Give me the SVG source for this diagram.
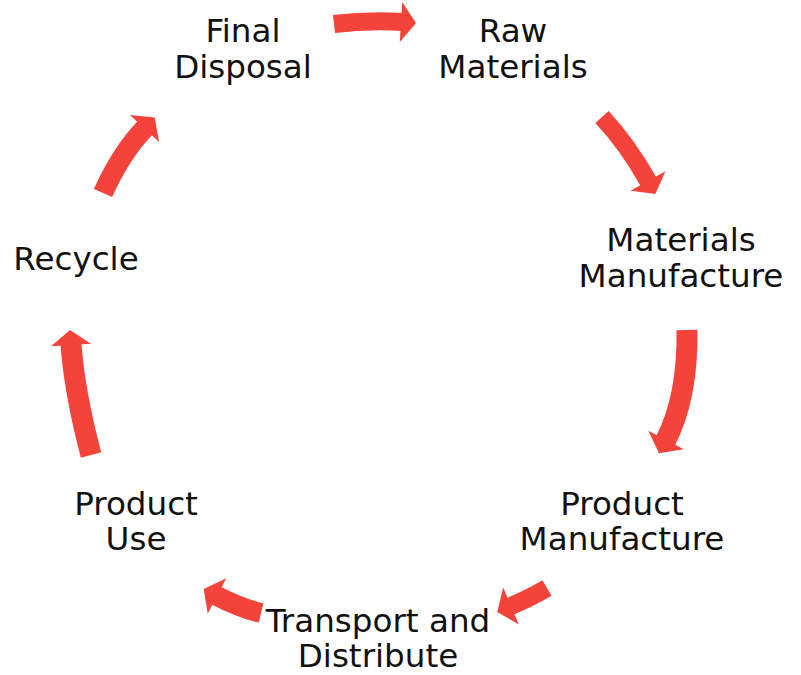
<svg xmlns="http://www.w3.org/2000/svg" width="801" height="675" viewBox="0 0 801 675">
<style>
.bg{fill:#ffffff}
.lbl{font-family:"DejaVu Sans","Open Sans",sans-serif;font-size:32.6px;fill:#111111;text-anchor:middle}
.body{fill:none;stroke:#f4433a;stroke-linecap:butt}
.head{fill:#f4433a}
</style>
<rect class="bg" x="0" y="0" width="801" height="675"/>
<g id="connectors">
  <g id="a1"><path class="body" stroke-width="18" d="M334,24 Q367,20 403,22"/><polygon class="head" points="402.2,2 416,22.9 399.8,42"/></g>
  <g id="a2"><path class="body" stroke-width="18" d="M602,117 Q628,145 649,182.7"/><polygon class="head" points="630.5,190.7 665.5,171.3 655.3,194.1"/></g>
  <g id="a3"><path class="body" stroke-width="21" d="M687,330 Q688,398 665,441.8"/><polygon class="head" points="683.7,449.3 648.3,430.7 659,453.3"/></g>
  <g id="a4"><path class="body" stroke-width="18" d="M547,588 Q530,598 509.2,606.8"/><polygon class="head" points="518.8,624.4 503.2,587.6 497.2,611.9"/></g>
  <g id="a5"><path class="body" stroke-width="20" d="M261,613 Q240,608 215.2,595.1"/><polygon class="head" points="207.7,613.7 226.3,578.3 203.7,589.1"/></g>
  <g id="a6"><path class="body" stroke-width="21" d="M91,455 Q74,390 70.9,343"/><polygon class="head" points="91,343.7 51,346.3 70,330"/></g>
  <g id="a7"><path class="body" stroke-width="20" d="M103,193 Q121.3,152.3 145.9,127"/><polygon class="head" points="159.1,142.1 129.9,114.9 154.7,117.5"/></g>
</g>
<g id="final-disposal"><text class="lbl" x="243" y="42">Final</text><text class="lbl" x="243" y="78">Disposal</text></g>
<g id="raw-materials"><text class="lbl" x="513" y="42">Raw</text><text class="lbl" x="513" y="78">Materials</text></g>
<g id="materials-manufacture"><text class="lbl" x="681" y="251">Materials</text><text class="lbl" x="681" y="287">Manufacture</text></g>
<g id="product-manufacture"><text class="lbl" x="622" y="515">Product</text><text class="lbl" x="622" y="550">Manufacture</text></g>
<g id="transport-distribute"><text class="lbl" x="378" y="632">Transport and</text><text class="lbl" x="378" y="667">Distribute</text></g>
<g id="product-use"><text class="lbl" x="136" y="515">Product</text><text class="lbl" x="136" y="550">Use</text></g>
<g id="recycle"><text class="lbl" x="76" y="270">Recycle</text></g>
</svg>
